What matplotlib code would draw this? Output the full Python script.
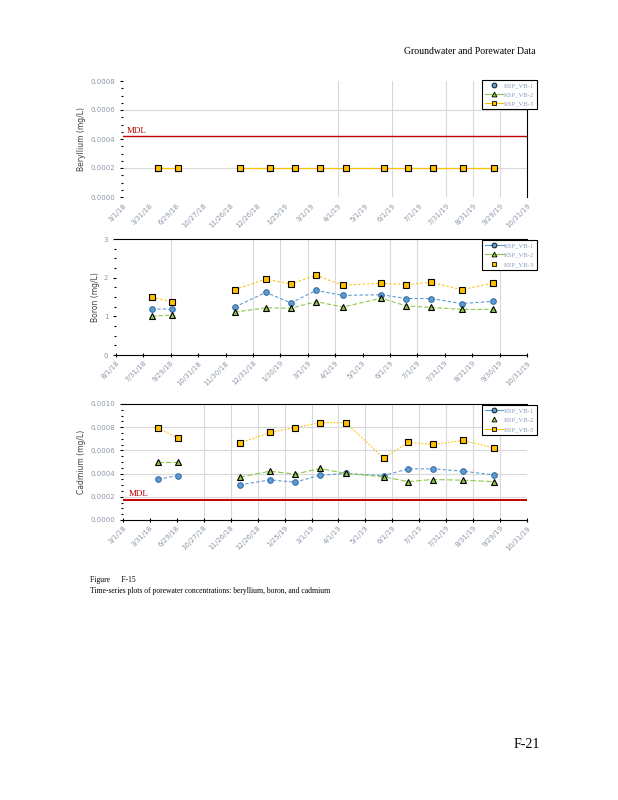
import matplotlib
matplotlib.use("Agg")
import matplotlib.pyplot as plt
import matplotlib.dates as mdates
from matplotlib.lines import Line2D
from matplotlib.ticker import MultipleLocator, FormatStrFormatter
import numpy as np
import pandas as pd

# --- sample dates (one gap sample between 2nd and 3rd event = no data) ---
dates = pd.to_datetime([
    "2018-04-23", "2018-05-23", "2018-07-10", "2018-08-24", "2018-10-09",
    "2018-11-15", "2018-12-23", "2019-01-31", "2019-03-29", "2019-05-05",
    "2019-06-11", "2019-07-26", "2019-09-11",
])
nan = np.nan

be_vb1 = [0.0002, 0.0002, nan] + [0.0002] * 10
be_vb2 = [0.0002, 0.0002, nan] + [0.0002] * 10
be_vb3 = [0.0002, 0.0002, nan] + [0.0002] * 10
be_mdl = 0.00042

b_vb1 = [1.19, 1.19, nan, 1.24, 1.62, 1.35, 1.67, 1.54, 1.56, 1.46, 1.46, 1.33, 1.39]
b_vb2 = [1.01, 1.03, nan, 1.11, 1.22, 1.21, 1.38, 1.24, 1.47, 1.27, 1.23, 1.18, 1.18]
b_vb3 = [1.49, 1.37, nan, 1.69, 1.96, 1.84, 2.06, 1.80, 1.86, 1.82, 1.88, 1.69, 1.86]

cd_vb1 = [0.000352, 0.000383, nan, 0.000303, 0.000346, 0.000326, 0.000386,
          0.000401, 0.000383, 0.000441, 0.000441, 0.000421, 0.000389]
cd_vb2 = [0.000496, 0.000496, nan, 0.000369, 0.000421, 0.000395, 0.000444,
          0.000401, 0.000372, 0.000331, 0.000349, 0.000343, 0.000331]
cd_vb3 = [0.000790, 0.000706, nan, 0.000663, 0.000755, 0.000795, 0.000839,
          0.000839, 0.000533, 0.000669, 0.000651, 0.000686, 0.000622]
cd_mdl = 0.000176

labels_a = ["3/1/18", "3/31/18", "6/29/18", "10/27/18", "11/26/18", "12/26/18",
            "1/25/19", "3/1/19", "4/1/19", "5/1/19", "6/1/19", "7/1/19",
            "7/31/19", "8/31/19", "9/29/19", "10/31/19"]
labels_b = ["8/1/18", "7/31/18", "9/29/18", "10/31/18", "11/30/18", "12/31/18",
            "1/30/19", "3/1/19", "4/1/19", "5/1/19", "6/1/19", "7/1/19",
            "7/31/19", "8/31/19", "9/30/19", "10/31/19"]
series_names = ["KSP_VB-1", "KSP_VB-2", "KSP_VB-3"]

X0, X1 = pd.Timestamp("2018-03-01"), pd.Timestamp("2019-10-31")

C1, C2, C3 = "#5b9bd5", "#8fc84a", "#ffc000"
MDL_RED = "#c00000"
TICK_COL = "#8a96a8"
SERIF = "Liberation Serif"

fig = plt.figure(figsize=(6.18, 8.0), dpi=100)


def setup_axis(ax, ymax, ystep, yminor, fmt, labels, vgrid, hgrid):
    ax.set_xlim(X0, X1)
    ax.set_ylim(0, ymax)
    ticks = pd.date_range(X0, X1, periods=len(labels))
    ax.set_xticks(mdates.date2num(ticks))
    ax.set_xticklabels(labels, rotation=45, ha="right", rotation_mode="anchor",
                       fontsize=5, color=TICK_COL)
    ax.yaxis.set_major_locator(MultipleLocator(ystep))
    ax.yaxis.set_minor_locator(MultipleLocator(yminor))
    ax.yaxis.set_major_formatter(FormatStrFormatter(fmt))
    ax.tick_params(axis="y", labelsize=5, labelcolor=TICK_COL, length=2.5,
                   width=0.8, pad=3)
    ax.tick_params(axis="y", which="minor", length=1.5, width=0.8)
    ax.tick_params(axis="x", length=3, width=0.8, direction="inout", pad=2)
    for i in vgrid:
        ax.axvline(mdates.date2num(ticks[i]), color="#d9d9d9", lw=0.8, zorder=0)
    for v in hgrid:
        ax.axhline(v, color="#d9d9d9", lw=0.8, zorder=0)
    ax.spines["left"].set_visible(False)
    return ticks


def draw(ax, ys, styles, mks):
    cols = [C1, C2, C3]
    sizes = [4.0, 4.6, 5.0]
    for y, c, ls, mk, ms in zip(ys, cols, styles, mks, sizes):
        ax.plot(dates, y, color=c, ls=ls, lw=0.8, marker=mk, ms=ms,
                mfc=c, mec="black" if mk != "o" else "#3b6ea5", mew=0.8)


def legend(ax, show_line, y_top):
    handles = []
    for c, mk, on in zip([C1, C2, C3], ["o", "^", "s"], show_line):
        handles.append(Line2D([], [], color=c, lw=0.8 if on else 0, marker=mk,
                              ms=3.5, mfc=c, mec="black", mew=0.6))
    leg = ax.legend(handles, series_names, loc="upper right",
                    bbox_to_anchor=(1.033, y_top),
                    frameon=True, fancybox=False, edgecolor="black",
                    framealpha=1, borderpad=0.4, handlelength=2.8,
                    handletextpad=0.1, labelspacing=0.55,
                    prop={"family": SERIF, "size": 4.8})
    leg.get_frame().set_linewidth(0.8)
    for t in leg.get_texts():
        t.set_color("#8a9cc0")


# ---- Beryllium ----
ax1 = fig.add_axes([123 / 618, 1 - 197 / 800, 404 / 618, 116 / 800])
be_grid = [8, 10, 12, 13, 14]
ticks1 = setup_axis(ax1, 0.0008, 0.0002, 0.00005, "%.4f", labels_a,
                    be_grid, [0.0002, 0.0006])
ax1.spines["top"].set_visible(False)
ax1.spines["bottom"].set_visible(False)
ax1.tick_params(axis="x", which="major", length=0, pad=4)
ax1.set_xticks(mdates.date2num(ticks1[be_grid]), minor=True)
ax1.tick_params(axis="x", which="minor", length=7, width=1.0, direction="inout")
draw(ax1, [be_vb1, be_vb2, be_vb3], ["none", "-", "-"], ["o", "^", "s"])
ax1.axhline(be_mdl, color=MDL_RED, lw=1.0)
ax1.text(0.01, be_mdl + 0.00001, "MDL", transform=ax1.get_yaxis_transform(),
         color=MDL_RED, fontsize=6.5, family=SERIF, va="bottom")
ax1.set_ylabel("Beryllium (mg/L)", fontsize=5.5, color="#404040", labelpad=3)
legend(ax1, [False, True, True], 1.04)

# ---- Boron ----
ax2 = fig.add_axes([116 / 618, 1 - 355 / 800, 411 / 618, 116 / 800])
setup_axis(ax2, 3, 1, 0.25, "%.0f", labels_b,
           [2, 5, 6, 7, 8, 10, 11, 14], [])
ax2.spines["right"].set_visible(False)
draw(ax2, [b_vb1, b_vb2, b_vb3], [(0, (3, 2)), (0, (4, 2)), (0, (2, 2))],
     ["o", "^", "s"])
ax2.set_ylabel("Boron (mg/L)", fontsize=5.5, color="#404040", labelpad=3)
legend(ax2, [True, True, False], 1.02)

# ---- Cadmium ----
ax3 = fig.add_axes([123 / 618, 1 - 520 / 800, 404 / 618, 116 / 800])
setup_axis(ax3, 0.0010, 0.0002, 0.00005, "%.4f", labels_a,
           list(range(3, 16)), [0.0002, 0.0004, 0.0006, 0.0008])
ax3.spines["right"].set_visible(False)
draw(ax3, [cd_vb1, cd_vb2, cd_vb3], [(0, (3, 2)), (0, (5, 2)), (0, (1.5, 1.5))],
     ["o", "^", "s"])
ax3.axhline(cd_mdl, color=MDL_RED, lw=1.4)
ax3.text(0.015, cd_mdl + 0.00001, "MDL", transform=ax3.get_yaxis_transform(),
         color=MDL_RED, fontsize=6.5, family=SERIF, va="bottom")
ax3.set_ylabel("Cadmium (mg/L)", fontsize=5.5, color="#404040", labelpad=3)
legend(ax3, [True, False, True], 1.02)

# ---- page text ----
fig.text(535 / 618, 1 - 51 / 800, "Groundwater and Porewater Data", ha="right",
         va="center", fontsize=7, family=SERIF)
fig.text(90 / 618, 1 - 580 / 800, "Figure      F-15", ha="left", va="center",
         fontsize=5.5, family=SERIF)
fig.text(90 / 618, 1 - 591 / 800,
         "Time-series plots of porewater concentrations: beryllium, boron, and cadmium",
         ha="left", va="center", fontsize=5.5, family=SERIF)
fig.text(540 / 618, 1 - 745 / 800, "F-21", ha="right", va="center",
         fontsize=10, family=SERIF)

fig.savefig("out.png", dpi=100)
plt.close(fig)
